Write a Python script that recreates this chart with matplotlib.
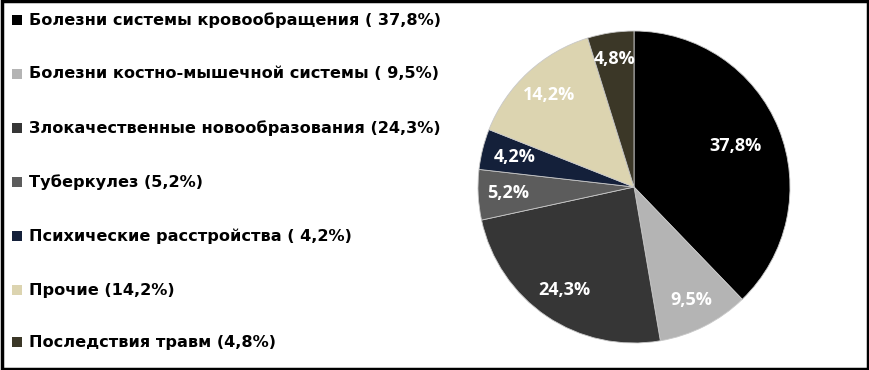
import matplotlib
matplotlib.use("Agg")
import matplotlib.pyplot as plt
from matplotlib.patches import Rectangle
import numpy as np

labels = ["Болезни системы кровообращения ( 37,8%)",
          "Болезни костно-мышечной системы ( 9,5%)",
          "Злокачественные новообразования (24,3%)",
          "Туберкулез (5,2%)",
          "Психические расстройства ( 4,2%)",
          "Прочие (14,2%)",
          "Последствия травм (4,8%)"]
values = [37.8, 9.5, 24.3, 5.2, 4.2, 14.2, 4.8]
pct_labels = ["37,8%", "9,5%", "24,3%", "5,2%", "4,2%", "14,2%", "4,8%"]
colors = ["#000000", "#b4b4b4", "#363636", "#5c5c5c", "#14203a", "#dcd4b0", "#3b3727"]
label_dist = [0.70, 0.81, 0.80, 0.81, 0.79, 0.80, 0.83]

W, H = 870, 370
fig = plt.figure(figsize=(W / 100, H / 100), dpi=100)
fig.patch.set_facecolor("white")

cx, cy, r = 634, 187, 156
ax = fig.add_axes([(cx - r) / W, (H - cy - r) / H, 2 * r / W, 2 * r / H])
wedges, texts = ax.pie(values, colors=colors, startangle=90, counterclock=False,
                       wedgeprops=dict(edgecolor="#c8c8c8", linewidth=0.6))
ax.set_xlim(-1, 1)
ax.set_ylim(-1, 1)
ax.set_aspect("equal")
for w, t, d in zip(wedges, pct_labels, label_dist):
    ang = np.deg2rad((w.theta1 + w.theta2) / 2)
    ax.text(d * np.cos(ang), d * np.sin(ang), t, color="white", fontweight="bold",
            fontsize=13, family="Open Sans", ha="center", va="center")

rows_y = [20, 74, 128, 182, 236, 290, 342]
for lab, col, y in zip(labels, colors, rows_y):
    yf = 1 - y / H
    fig.patches.append(Rectangle((12 / W, yf - 5 / H), 10 / W, 10 / H, transform=fig.transFigure,
                                 facecolor=col, edgecolor="none"))
    fig.text(29 / W, yf, lab, fontsize=11.6, fontweight="bold", family="DejaVu Sans",
             va="center", ha="left", color="black")

fig.patches.append(Rectangle((0.002, 0.003), 0.996, 0.994, transform=fig.transFigure,
                             facecolor="none", edgecolor="black", linewidth=2.5))

fig.savefig("out.png", dpi=100)
